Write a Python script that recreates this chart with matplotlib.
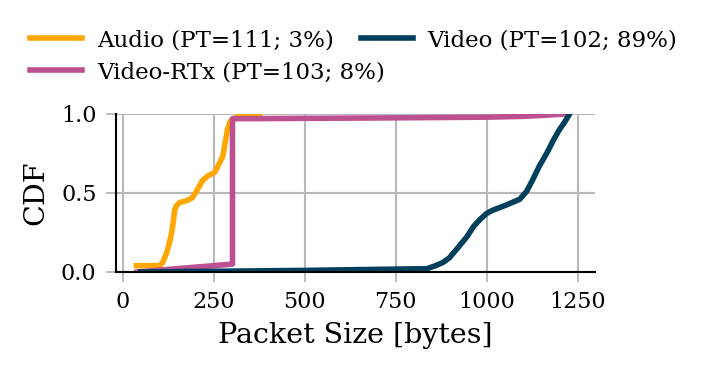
import matplotlib
matplotlib.use('Agg')
import matplotlib.pyplot as plt

plt.rcParams['font.family'] = ['DejaVu Serif']

# Audio (PT=111)
audio_x = [38, 102, 110, 121, 128, 135, 140, 143, 148, 157, 175, 192, 205,
           220, 235, 253, 262, 275, 282, 288, 295, 302, 330, 376]
audio_y = [0.04, 0.04, 0.06, 0.12, 0.18, 0.25, 0.33, 0.39, 0.42, 0.44, 0.45,
           0.47, 0.52, 0.58, 0.61, 0.63, 0.67, 0.73, 0.82, 0.90, 0.95, 0.97,
           0.99, 1.0]

# Video-RTx (PT=103)
rtx_x = [40, 302, 302, 710, 1000, 1100, 1160, 1214]
rtx_y = [0.0, 0.05, 0.97, 0.975, 0.98, 0.985, 0.992, 1.0]

# Video (PT=102)
video_x = [50, 500, 800, 835, 860, 880, 898, 920, 945, 965, 981, 1000, 1016,
           1050, 1091, 1110, 1126, 1145, 1165, 1185, 1200, 1215, 1228]
video_y = [0.0, 0.01, 0.02, 0.02, 0.04, 0.06, 0.09, 0.15, 0.22, 0.29, 0.33,
           0.37, 0.39, 0.42, 0.46, 0.51, 0.58, 0.67, 0.75, 0.84, 0.90, 0.95, 1.0]

labels = ['Audio (PT=111; 3%)', 'Video-RTx (PT=103; 8%)', 'Video (PT=102; 89%)']
colors = ['#ffa600', '#bc5090', '#003f5c']

fig = plt.figure(figsize=(7.07, 3.75), dpi=100)
ax = fig.add_axes([0.1641, 0.2747, 0.6775, 0.4213])

l_audio, = ax.plot(audio_x, audio_y, color=colors[0], lw=4, label=labels[0])
l_rtx, = ax.plot(rtx_x, rtx_y, color=colors[1], lw=4, label=labels[1])
l_video, = ax.plot(video_x, video_y, color=colors[2], lw=4, label=labels[2])

ax.set_xlim(-18, 1298)
ax.set_ylim(0, 1)
ax.set_yticks([0, 0.5, 1.0])
ax.set_xticks([0, 250, 500, 750, 1000, 1250])
ax.grid(True, color='#b8b8b8', lw=1.5)
ax.set_axisbelow(True)
for s in ['top', 'right']:
    ax.spines[s].set_visible(False)
for s in ['left', 'bottom']:
    ax.spines[s].set_linewidth(1.5)
ax.tick_params(labelsize=16, length=7, width=1.2, color='#b0b0b0', pad=7)
ax.set_xlabel('Packet Size [bytes]', fontsize=20.5, labelpad=6)
ax.set_ylabel('CDF', fontsize=20.5, labelpad=8)

leg_kw = dict(frameon=False, fontsize=16.5, handlelength=2.27,
              handletextpad=0.65, columnspacing=1.18, borderpad=0,
              borderaxespad=0, loc='center left')
leg1 = fig.legend([l_audio, l_video], [labels[0], labels[2]], ncol=2,
                  bbox_to_anchor=(30 / 707, 1 - 40 / 375), **leg_kw)
fig.legend([l_rtx], [labels[1]], ncol=1,
           bbox_to_anchor=(30 / 707, 1 - 72 / 375), **leg_kw)

fig.savefig('out.png')
